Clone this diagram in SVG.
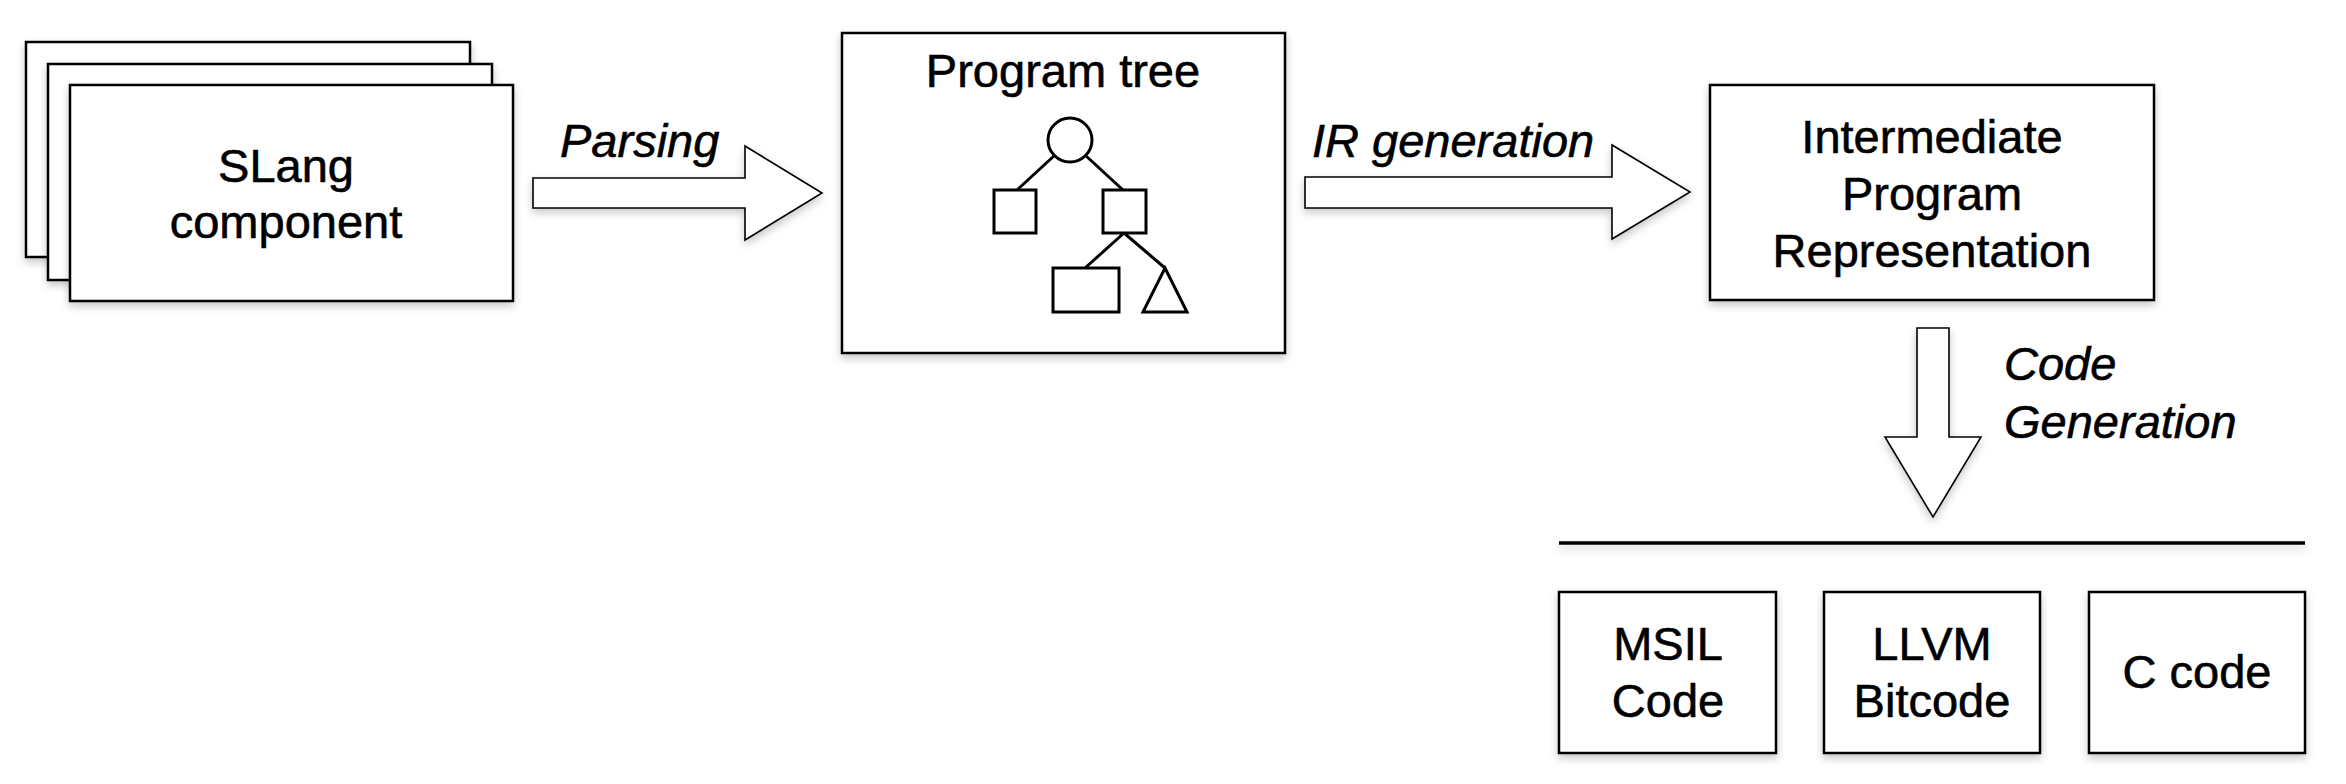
<svg xmlns="http://www.w3.org/2000/svg" width="2346" height="784" viewBox="0 0 2346 784">
<defs>
<filter id="sh" x="-10%" y="-10%" width="125%" height="130%">
<feDropShadow dx="0" dy="4" stdDeviation="4" flood-color="#000" flood-opacity="0.22"/>
</filter>
<filter id="shl" filterUnits="userSpaceOnUse" x="1540" y="520" width="790" height="50">
<feDropShadow dx="0" dy="4" stdDeviation="4" flood-color="#000" flood-opacity="0.22"/>
</filter>
</defs>
<style>
.box{fill:#fff;stroke:#000;stroke-width:2.5}
.arr{fill:#fff;stroke:#000;stroke-width:1.6;stroke-linejoin:miter}
.t{font-family:"Liberation Sans",Arial,Helvetica,sans-serif;font-size:47px;fill:#000;stroke:#000;stroke-width:0.6;text-anchor:middle}
.i{font-family:"Liberation Sans",Arial,Helvetica,sans-serif;font-size:47px;fill:#000;stroke:#000;stroke-width:0.6;font-style:italic}
.tr{fill:#fff;stroke:#000;stroke-width:3}
.ln{stroke:#000;stroke-width:3;fill:none}
</style>
<rect width="2346" height="784" fill="#fff"/>
<g id="slang">
<rect class="box" x="26" y="42" width="444" height="215" filter="url(#sh)"/>
<rect class="box" x="48" y="64" width="444" height="216" filter="url(#sh)"/>
<rect class="box" x="70" y="85" width="443" height="216" filter="url(#sh)"/>
<text class="t" x="286" y="182">SLang</text>
<text class="t" x="286" y="238">component</text>
</g>
<g id="programtree">
<rect class="box" x="842" y="33" width="443" height="320" filter="url(#sh)"/>
<text class="t" x="1063" y="87">Program tree</text>
<circle class="tr" cx="1070" cy="140" r="22"/>
<rect class="tr" x="994" y="190" width="42" height="43"/>
<rect class="tr" x="1103" y="190" width="43" height="43"/>
<rect class="tr" x="1053" y="268" width="66" height="44"/>
<polygon class="tr" points="1165,268 1187,312 1143,312"/>
<line class="ln" x1="1055" y1="155" x2="1017" y2="190"/>
<line class="ln" x1="1085" y1="155" x2="1123" y2="190"/>
<line class="ln" x1="1124" y1="233" x2="1085" y2="268"/>
<line class="ln" x1="1124" y1="233" x2="1165" y2="268"/>
</g>
<g id="ipr">
<rect class="box" x="1710" y="85" width="444" height="215" filter="url(#sh)"/>
<text class="t" x="1932" y="153">Intermediate</text>
<text class="t" x="1932" y="210">Program</text>
<text class="t" x="1932" y="267">Representation</text>
</g>
<g id="msil">
<rect class="box" x="1559" y="592" width="217" height="161" filter="url(#sh)"/>
<text class="t" x="1668" y="660">MSIL</text>
<text class="t" x="1668" y="717">Code</text>
</g>
<g id="llvm">
<rect class="box" x="1824" y="592" width="216" height="161" filter="url(#sh)"/>
<text class="t" x="1932" y="660">LLVM</text>
<text class="t" x="1932" y="717">Bitcode</text>
</g>
<g id="ccode">
<rect class="box" x="2089" y="592" width="216" height="161" filter="url(#sh)"/>
<text class="t" x="2197" y="688">C code</text>
</g>
<g id="connectors">
<polygon class="arr" points="533,178 745,178 745,146 822,193 745,240 745,208 533,208" filter="url(#sh)"/>
<text class="i" x="560" y="157">Parsing</text>
<polygon class="arr" points="1305,177 1612,177 1612,145 1690,192 1612,239 1612,208 1305,208" filter="url(#sh)"/>
<text class="i" x="1312" y="157">IR generation</text>
<polygon class="arr" points="1917,328 1949,328 1949,437 1981,437 1933,517 1885,437 1917,437" filter="url(#sh)"/>
<text class="i" x="2004" y="380">Code</text>
<text class="i" x="2004" y="438">Generation</text>
<line x1="1559" y1="543" x2="2305" y2="543" stroke="#000" stroke-width="3.5" filter="url(#shl)"/>
</g>
</svg>
